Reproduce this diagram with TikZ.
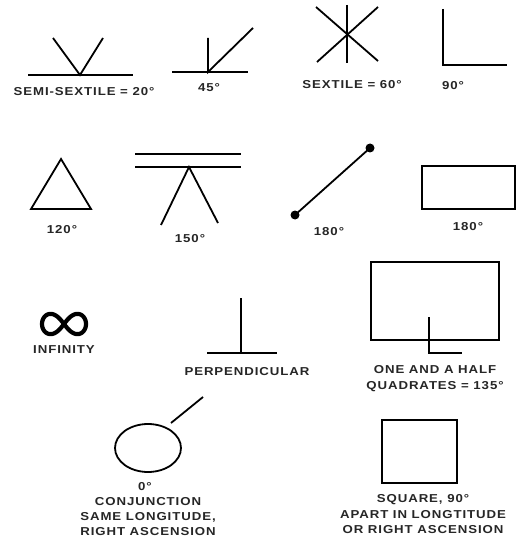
\documentclass[tikz,border=0pt]{standalone}
\usepackage{fontspec}
\setmainfont{Liberation Sans}[FakeStretch=1.15,LetterSpace=8]
\begin{document}
\begin{tikzpicture}[x=1pt,y=-1pt,
  sym/.style={line width=1.8pt,line cap=butt,line join=miter},
  lbl/.style={font=\fontsize{11.5}{13}\selectfont\bfseries,inner sep=0pt,text=black!85}]
\useasboundingbox (0,0) rectangle (521,545);
% Semi-sextile
\draw[sym] (28,75) -- (133,75);
\draw[sym] (53,38) -- (80,75) -- (103,38);
\node[lbl] (ss) at (84,92) {SEMI-SEXTILE = 20°};
% 45
\draw[sym] (172,72) -- (248,72);
\draw[sym] (208,38) -- (208,72) -- (253,28);
\node[lbl] (f45) at (209,88) {45°};
% Sextile
\draw[sym] (347,5) -- (347,63);
\draw[sym] (316,7) -- (378,61);
\draw[sym] (378,7) -- (317,62);
\node[lbl] (sx) at (352,85) {SEXTILE = 60°};
% 90
\draw[sym] (443,9) -- (443,65) -- (507,65);
\node[lbl] (n90) at (453,86) {90°};
% 120 triangle
\draw[sym] (61,159) -- (31,209) -- (91,209) -- cycle;
\node[lbl] (t120) at (62,230) {120°};
% 150
\draw[sym] (135,154) -- (241,154);
\draw[sym] (135,167) -- (241,167);
\draw[sym] (161,225) -- (189,167) -- (218,223);
\node[lbl] (t150) at (190,239) {150°};
% 180 line with dots
\draw[sym] (295,215) -- (370,148);
\fill (295,215) circle (4.5);
\fill (370,148) circle (4.5);
\node[lbl] (o180a) at (329,232) {180°};
% 180 rectangle
\draw[sym] (422,166) rectangle (515,209);
\node[lbl] (o180b) at (468,227) {180°};
% Infinity
\draw[line width=4.2pt,yscale=1.3] plot[domain=0:360,samples=120,smooth,variable=\t]
  ({64+22*cos(\t)/(1+sin(\t)^2)},{324/1.3+22*sin(\t)*cos(\t)/(1+sin(\t)^2)});
\node[lbl] (inf) at (64,350) {INFINITY};
% Perpendicular
\draw[sym] (241,298) -- (241,353);
\draw[sym] (207,353) -- (277,353);
\node[lbl] (perp) at (247,372) {PERPENDICULAR};
% One and a half quadrates
\draw[sym] (371,262) -- (371,340) -- (499,340) -- (499,262) -- cycle;
\draw[sym] (429,317) -- (429,353) -- (462,353);
\node[lbl] (q1) at (435,370) {ONE AND A HALF};
\node[lbl] (q2) at (435,387) {QUADRATES = 135°};
% Conjunction
\draw[sym] (148,448) ellipse (33 and 24);
\draw[sym] (171,423) -- (203,397);
\node[lbl] (c0) at (145,487) {0°};
\node[lbl] (c1) at (148,502) {CONJUNCTION};
\node[lbl] (c2) at (148,517) {SAME LONGITUDE,};
\node[lbl] (c3) at (148,532) {RIGHT ASCENSION};
% Square
\draw[sym] (382,420) rectangle (457,483);
\node[lbl] (s1) at (423,500) {SQUARE, 90°};
\node[lbl] (s2) at (423,515) {APART IN LONGTITUDE};
\node[lbl] (s3) at (423,530) {OR RIGHT ASCENSION};
\end{tikzpicture}
\end{document}
